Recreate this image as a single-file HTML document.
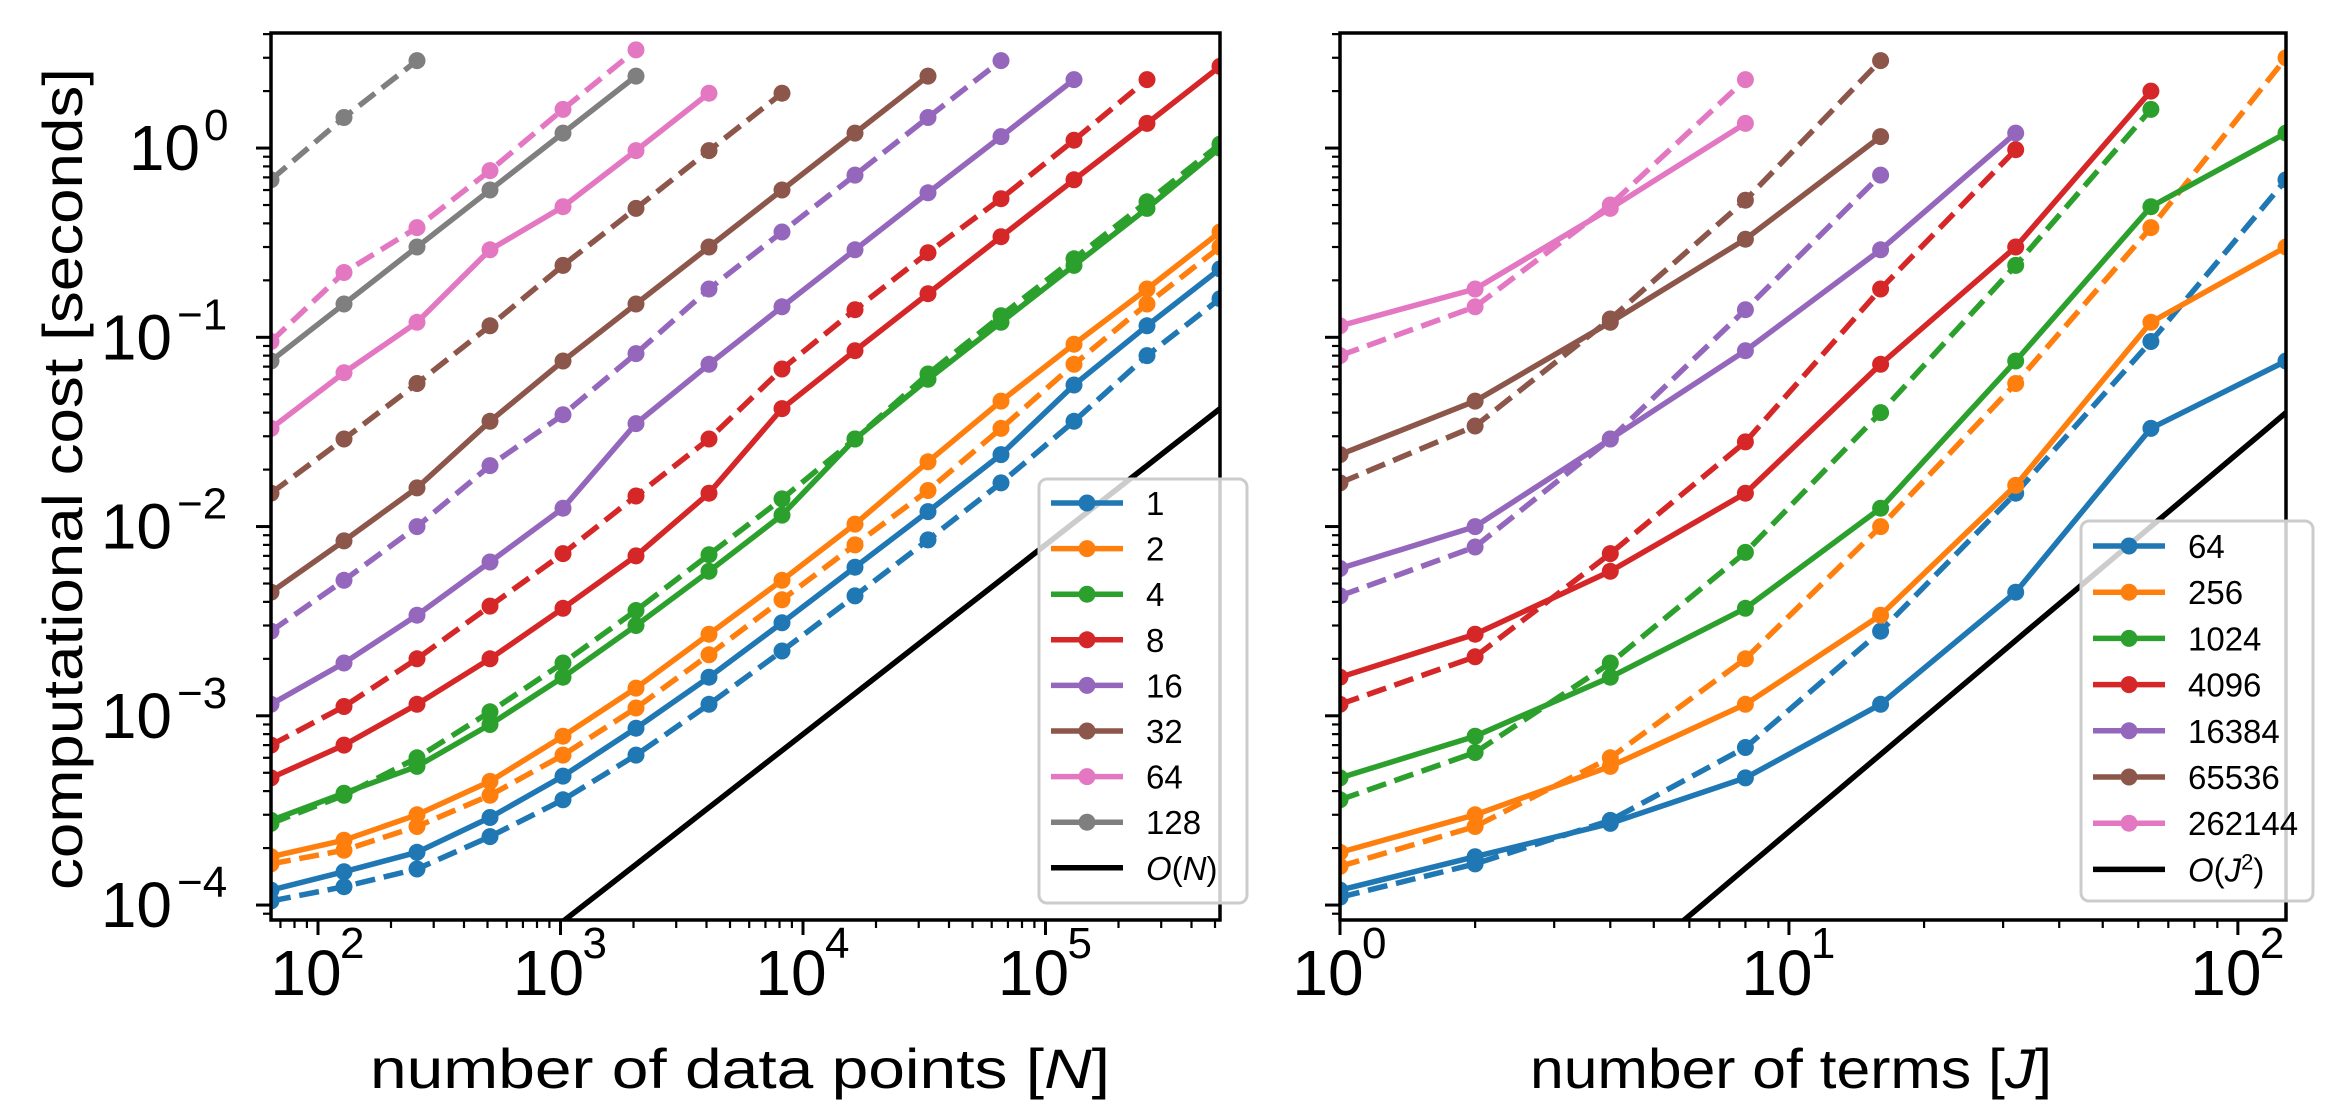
<!DOCTYPE html>
<html><head><meta charset="utf-8"><style>
html,body{margin:0;padding:0;background:#fff;overflow:hidden;width:2342px;height:1116px;}
svg{display:block;}
text{font-family:"Liberation Sans","DejaVu Sans",sans-serif;fill:#000;}
</style></head><body>
<svg id="chart" width="2342" height="1116" viewBox="0 0 2342 1116" xmlns="http://www.w3.org/2000/svg">
<g id="left"></g>
<g id="right"></g>
<text x="0" y="0" transform="translate(82,479) rotate(-90)" text-anchor="middle" font-size="56" textLength="822" lengthAdjust="spacingAndGlyphs">computational cost [seconds]</text>
<text x="740" y="1088" text-anchor="middle" font-size="56" textLength="740" lengthAdjust="spacingAndGlyphs">number of data points [<tspan font-style="italic">N</tspan>]</text>
<text x="1791" y="1088" text-anchor="middle" font-size="56" textLength="522" lengthAdjust="spacingAndGlyphs">number of terms [<tspan font-style="italic">J</tspan>]</text>
</svg>
<script>
// ---------- data ----------
const leftX = [64,128,256,512,1024,2048,4096,8192,16384,32768,65536,131072,262144,524288];
const leftLabels = ["1","2","4","8","16","32","64","128"];
const leftSolid = [
 [1.2e-4,1.5e-4,1.9e-4,2.9e-4,4.8e-4,8.6e-4,1.6e-3,3.1e-3,6.1e-3,1.2e-2,2.4e-2,5.6e-2,1.15e-1,2.3e-1],
 [1.8e-4,2.2e-4,3e-4,4.5e-4,7.8e-4,1.4e-3,2.7e-3,5.2e-3,1.03e-2,2.2e-2,4.6e-2,9.2e-2,1.8e-1,3.6e-1],
 [2.8e-4,3.9e-4,5.4e-4,9e-4,1.6e-3,3e-3,5.8e-3,1.15e-2,2.9e-2,6e-2,1.2e-1,2.4e-1,4.8e-1,1.0],
 [4.7e-4,7e-4,1.15e-3,2e-3,3.7e-3,7e-3,1.5e-2,4.2e-2,8.5e-2,1.7e-1,3.4e-1,6.8e-1,1.35,2.7],
 [1.15e-3,1.9e-3,3.4e-3,6.5e-3,1.25e-2,3.5e-2,7.2e-2,1.45e-1,2.9e-1,5.8e-1,1.15,2.3],
 [4.5e-3,8.4e-3,1.6e-2,3.6e-2,7.5e-2,1.5e-1,3e-1,6e-1,1.2,2.4],
 [3.3e-2,6.5e-2,1.2e-1,2.9e-1,4.9e-1,9.7e-1,1.95],
 [7.5e-2,1.5e-1,3e-1,6e-1,1.2,2.4]
];
const leftDashed = [
 [1.05e-4,1.25e-4,1.55e-4,2.3e-4,3.6e-4,6.2e-4,1.15e-3,2.2e-3,4.3e-3,8.5e-3,1.7e-2,3.6e-2,8e-2,1.6e-1],
 [1.65e-4,1.95e-4,2.6e-4,3.8e-4,6.2e-4,1.1e-3,2.1e-3,4.1e-3,8e-3,1.55e-2,3.3e-2,7.2e-2,1.5e-1,3e-1],
 [2.7e-4,3.8e-4,6e-4,1.05e-3,1.9e-3,3.6e-3,7.1e-3,1.4e-2,2.9e-2,6.4e-2,1.3e-1,2.6e-1,5.2e-1,1.05],
 [7e-4,1.12e-3,2e-3,3.8e-3,7.2e-3,1.45e-2,2.9e-2,6.8e-2,1.4e-1,2.8e-1,5.4e-1,1.1,2.3],
 [2.8e-3,5.2e-3,1e-2,2.1e-2,3.9e-2,8.2e-2,1.8e-1,3.6e-1,7.2e-1,1.45,2.9],
 [1.5e-2,2.9e-2,5.7e-2,1.15e-1,2.4e-1,4.8e-1,9.7e-1,1.95],
 [9.5e-2,2.2e-1,3.8e-1,7.6e-1,1.6,3.3],
 [6.8e-1,1.45,2.9]
];
const leftRefCoef = 8e-8; // O(N)
const rightX = [1,2,4,8,16,32,64,128];
const rightLabels = ["64","256","1024","4096","16384","65536","262144"];
const rightSolid = [
 [1.2e-4,1.8e-4,2.7e-4,4.7e-4,1.15e-3,4.5e-3,3.3e-2,7.5e-2],
 [1.9e-4,3e-4,5.4e-4,1.15e-3,3.4e-3,1.65e-2,1.2e-1,3e-1],
 [4.7e-4,7.8e-4,1.6e-3,3.7e-3,1.25e-2,7.5e-2,4.9e-1,1.2],
 [1.6e-3,2.7e-3,5.8e-3,1.5e-2,7.2e-2,3e-1,2.0],
 [6e-3,1e-2,2.9e-2,8.5e-2,2.9e-1,1.2],
 [2.4e-2,4.6e-2,1.2e-1,3.3e-1,1.15],
 [1.15e-1,1.8e-1,4.8e-1,1.35]
];
const rightDashed = [
 [1.1e-4,1.65e-4,2.8e-4,6.8e-4,2.8e-3,1.5e-2,9.5e-2,6.8e-1],
 [1.6e-4,2.6e-4,6e-4,2e-3,1e-2,5.7e-2,3.8e-1,3.0],
 [3.6e-4,6.4e-4,1.9e-3,7.3e-3,4e-2,2.4e-1,1.6],
 [1.15e-3,2.05e-3,7.2e-3,2.8e-2,1.8e-1,9.8e-1],
 [4.3e-3,7.8e-3,2.9e-2,1.4e-1,7.2e-1],
 [1.7e-2,3.4e-2,1.25e-1,5.3e-1,2.9],
 [8e-2,1.45e-1,5e-1,2.3]
];
const rightRefCoef = 0.04/(128*128); // O(J^2)
const colors = ["#1f77b4","#ff7f0e","#2ca02c","#d62728","#9467bd","#8c564b","#e377c2","#7f7f7f"];

// ---------- helpers ----------
const NS = "http://www.w3.org/2000/svg";
const TOP = 33, BOT = 920;
const yMin = -4.079, yMax = 0.608;
const LW = 5.5, MR = 8.5;
function yScale(v){ return BOT - (Math.log10(v) - yMin) / (yMax - yMin) * (BOT - TOP); }
function mk(tag, attrs, parent){ const e = document.createElementNS(NS, tag); for (const k in attrs) e.setAttribute(k, attrs[k]); parent.appendChild(e); return e; }

function panel(g, x0, x1, dMin, dMax, xs, solid, dashed, labels, refFn, refLabel, showY, xTicks, legendBox, nameP){
  const xScale = v => x0 + (Math.log10(v) - Math.log10(dMin)) / (Math.log10(dMax) - Math.log10(dMin)) * (x1 - x0);
  const clip = mk("clipPath", {id: "clip" + nameP}, g);
  mk("rect", {x: x0, y: TOP, width: x1 - x0, height: BOT - TOP}, clip);
  const plot = mk("g", {"clip-path": "url(#clip" + nameP + ")"}, g);
  
  
  const refPts = [];
  for (let k = 0; k <= 40; k++){ const v = Math.pow(10, Math.log10(dMin) + k/40*(Math.log10(dMax)-Math.log10(dMin))); refPts.push(xScale(v).toFixed(1) + "," + yScale(refFn(v)).toFixed(1)); }
  const ref = mk("polyline", {points: refPts.join(" "), fill: "none", stroke: "#000", "stroke-width": LW}, plot);
  
  
  function series(arr, ci, dash, lab){
    const sg = mk("g", {}, plot);
    
    
    const pts = arr.map((v,i) => xScale(xs[i]).toFixed(1) + "," + yScale(v).toFixed(1)).join(" ");
    const a = {points: pts, fill: "none", stroke: colors[ci], "stroke-width": LW, "stroke-linejoin": "round"};
    if (dash) a["stroke-dasharray"] = "20,8.8";
    mk("polyline", a, sg);
    arr.forEach((v,i) => {
      const c = mk("circle", {cx: xScale(xs[i]).toFixed(1), cy: yScale(v).toFixed(1), r: MR, fill: colors[ci]}, sg);
      
      
    });
  }
  solid.forEach((s,i) => { series(s, i, false, labels[i]); series(dashed[i], i, true, labels[i]); });
  const sp = mk("rect", {x: x0, y: TOP, width: x1 - x0, height: BOT - TOP, fill: "none", stroke: "#000", "stroke-width": 3.5}, g);
  
  
  const xt = mk("g", {}, g);
  
  
  for (let e = Math.floor(Math.log10(dMin)); e <= Math.ceil(Math.log10(dMax)); e++){
    for (let m = 1; m <= 9; m++){
      const v = m * Math.pow(10, e);
      if (v < dMin*0.999 || v > dMax*1.001) continue;
      const X = xScale(v);
      mk("line", {x1: X, x2: X, y1: BOT, y2: BOT + (m === 1 ? 15 : 8), stroke: "#000", "stroke-width": m === 1 ? 3 : 2.2}, xt);
    }
  }
  xTicks.forEach(e => {
    const X = xScale(Math.pow(10, e));
    const t = mk("text", {x: X - 12, y: 995, "text-anchor": "middle", "font-size": 64}, xt);
    
    
    t.textContent = "10";
    const s = mk("text", {x: X + 22, y: 958, "text-anchor": "start", "font-size": 44}, xt);
    
    
    s.textContent = String(e);
  });
  const yt = mk("g", {}, g);
  
  
  for (let e = -5; e <= 0; e++){
    for (let m = 1; m <= 9; m++){
      const v = m * Math.pow(10, e);
      const Y = yScale(v);
      if (Y < TOP - 0.5 || Y > BOT + 0.5) continue;
      mk("line", {x1: x0, x2: x0 - (m === 1 ? 15 : 8), y1: Y, y2: Y, stroke: "#000", "stroke-width": m === 1 ? 3 : 2.2}, yt);
    }
    if (showY && e >= -4){
      const Y = yScale(Math.pow(10, e));
      const t = mk("text", {x: e === 0 ? 200 : 172, y: Y + 22, "text-anchor": "end", "font-size": 64}, yt);
      
      
      t.textContent = "10";
      const s = mk("text", {x: e === 0 ? 204 : 177, y: Y - 8, "text-anchor": "start", "font-size": 44}, yt);
      
      
      s.textContent = e === 0 ? "0" : "\u2212" + (-e);
    }
  }
  const lg = mk("g", {}, g);
  
  
  mk("rect", {x: legendBox.x, y: legendBox.y, width: legendBox.w, height: legendBox.h, rx: 8, fill: "#fff", "fill-opacity": 0.8, stroke: "#cccccc", "stroke-width": 3}, lg);
  const rows = labels.length + 1;
  for (let i = 0; i < rows; i++){
    const Y = legendBox.r0 + i * legendBox.dy;
    const ent = mk("g", {}, lg);
    
    
    const isRef = i === labels.length;
    mk("line", {x1: legendBox.x + 12, x2: legendBox.x + 84, y1: Y, y2: Y, stroke: isRef ? "#000" : colors[i], "stroke-width": LW}, ent);
    if (!isRef) mk("circle", {cx: legendBox.x + 48, cy: Y, r: MR, fill: colors[i]}, ent);
    const t = mk("text", {x: legendBox.x + 107, y: Y + 12, "font-size": 33}, ent);
    if (isRef){ t.innerHTML = refLabel; } else t.textContent = labels[i];
  }
}

panel(document.getElementById("left"), 271, 1220, 64, 524288, leftX, leftSolid, leftDashed, leftLabels,
  v => leftRefCoef * v, '<tspan font-style="italic">O</tspan>(<tspan font-style="italic">N</tspan>)',
  true, [2,3,4,5], {x: 1039, y: 479, w: 208, h: 424, r0: 503, dy: 45.6}, "left");
panel(document.getElementById("right"), 1340, 2286, 1, 128, rightX, rightSolid, rightDashed, rightLabels,
  v => rightRefCoef * v * v, '<tspan font-style="italic">O</tspan>(<tspan font-style="italic">J</tspan><tspan font-size="22" dy="-12">2</tspan><tspan dy="12">)</tspan>',
  false, [0,1,2], {x: 2081, y: 521, w: 232, h: 380, r0: 546, dy: 46.2}, "right");
</script>
</body></html>
